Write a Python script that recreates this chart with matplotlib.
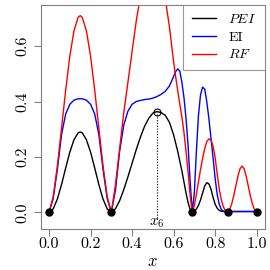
import matplotlib
matplotlib.use("Agg")
import matplotlib.pyplot as plt
import numpy as np

plt.rcParams['font.family'] = ['cmr10', 'DejaVu Serif']
plt.rcParams['mathtext.fontset'] = 'cm'
plt.rcParams['axes.formatter.use_mathtext'] = True

# x grid
x_vals = [0.00, 0.02, 0.04, 0.06, 0.08, 0.10, 0.12, 0.14, 0.15, 0.16, 0.18, 0.20,
          0.22, 0.24, 0.26, 0.28, 0.30, 0.32, 0.34, 0.36, 0.38, 0.40, 0.42, 0.44,
          0.46, 0.48, 0.50, 0.52, 0.54, 0.56, 0.58,
          0.60, 0.61, 0.62, 0.63, 0.64, 0.65, 0.66, 0.67, 0.68, 0.69, 0.70,
          0.71, 0.72, 0.73, 0.74, 0.75, 0.76, 0.77, 0.78, 0.79, 0.80,
          0.81, 0.82, 0.83, 0.84, 0.85, 0.86, 0.87, 0.88, 0.89, 0.90,
          0.91, 0.92, 0.93, 0.94, 0.95, 0.96, 0.97, 0.98, 0.99, 1.00]

pei_vals = [0.0, 0.0125, 0.048, 0.100, 0.160, 0.2175, 0.262, 0.287, 0.29, 0.287, 0.262, 0.2175,
            0.160, 0.100, 0.048, 0.0125, 0.0, 0.013, 0.042, 0.082, 0.128, 0.177, 0.226, 0.271,
            0.310, 0.339, 0.358, 0.364, 0.36, 0.35, 0.325,
            0.28, 0.25, 0.22, 0.185, 0.15, 0.11, 0.07, 0.035, 0.01, 0.0, 0.004,
            0.012, 0.025, 0.045, 0.07, 0.095, 0.107, 0.103, 0.085, 0.055, 0.03,
            0.015, 0.007, 0.004, 0.003, 0.003, 0.003, 0.003, 0.003, 0.003, 0.003,
            0.003, 0.003, 0.003, 0.003, 0.003, 0.003, 0.003, 0.003, 0.003, 0.003]

ei_vals = [0.0, 0.05, 0.155, 0.28, 0.355, 0.39, 0.405, 0.41, 0.41, 0.41, 0.405, 0.39,
           0.355, 0.28, 0.155, 0.05, 0.0, 0.08, 0.22, 0.315, 0.365, 0.39, 0.40, 0.404,
           0.407, 0.409, 0.412, 0.418, 0.426, 0.437, 0.456,
           0.49, 0.508, 0.518, 0.51, 0.47, 0.415, 0.34, 0.24, 0.11, 0.0, 0.07,
           0.22, 0.35, 0.425, 0.452, 0.445, 0.40, 0.34, 0.27, 0.20, 0.125,
           0.065, 0.03, 0.01, 0.004, 0.003, 0.003, 0.003, 0.003, 0.003, 0.003,
           0.003, 0.003, 0.003, 0.003, 0.003, 0.003, 0.003, 0.003, 0.003, 0.003]

rf_vals = [0.0, 0.0575, 0.168, 0.303, 0.441, 0.564, 0.655, 0.704, 0.71, 0.704, 0.655, 0.564,
           0.441, 0.303, 0.168, 0.0575, 0.0, 0.10, 0.23, 0.36, 0.47, 0.58, 0.69, 0.78,
           0.84, 0.88, 0.89, 0.88, 0.84, 0.77, 0.67,
           0.545, 0.49, 0.44, 0.39, 0.345, 0.29, 0.22, 0.145, 0.06, 0.0, 0.025,
           0.065, 0.11, 0.155, 0.195, 0.23, 0.255, 0.265, 0.262, 0.24, 0.20,
           0.14, 0.085, 0.045, 0.02, 0.006, 0.0, 0.01, 0.03, 0.06, 0.095,
           0.13, 0.157, 0.167, 0.157, 0.13, 0.095, 0.06, 0.03, 0.01, 0.0]

obs_x = [0.0, 0.3, 0.69, 0.86, 1.0]
obs_y = [0.0, 0.0, 0.0, 0.0, 0.0]
x6 = 0.52
y6 = 0.364

xticks = [0.0, 0.2, 0.4, 0.6, 0.8, 1.0]
xtick_labels = ["0.0", "0.2", "0.4", "0.6", "0.8", "1.0"]
yticks = [0.0, 0.2, 0.4, 0.6]
ytick_labels = ["0.0", "0.2", "0.4", "0.6"]

fig = plt.figure(figsize=(2.7, 2.7), dpi=100)
ax = fig.add_axes([0.151, 0.152, 0.830, 0.831])

lw = 1.0
ax.plot(x_vals, pei_vals, color='black', lw=lw, label=r'$PEI$')
ax.plot(x_vals, ei_vals, color='#0000FF', lw=lw, label='EI')
ax.plot(x_vals, rf_vals, color='#FF0000', lw=lw, label=r'$RF$')

ax.plot([x6, x6], [-0.02, y6], color='black', lw=0.8, linestyle=(0, (1, 1.5)))
ax.plot(obs_x, obs_y, 'o', color='black', markersize=5, zorder=5)
ax.plot([x6], [y6], 'o', mfc='none', mec='black', mew=0.8, markersize=5, zorder=5)
ax.text(x6, -0.038, r'$x_6$', ha='center', va='center', fontsize=11)

ax.set_xlim(-0.04, 1.04)
ax.set_ylim(-0.06, 0.75)

ax.set_xticks(xticks)
ax.set_xticklabels(xtick_labels)
ax.set_yticks(yticks)
ax.set_yticklabels(ytick_labels, rotation=90, va='center')

gray = '#808080'
for s in ax.spines.values():
    s.set_color(gray)
    s.set_linewidth(0.8)
ax.tick_params(axis='both', direction='out', length=5, width=0.8, color=gray,
               labelsize=11.5, labelcolor='black')
ax.tick_params(axis='x', pad=1)
ax.tick_params(axis='y', pad=3)

ax.set_xlabel(r'$x$', fontsize=12, labelpad=2)

leg = ax.legend(loc='upper right', fontsize=10, frameon=True, fancybox=False,
                borderaxespad=0, handlelength=1.75, handletextpad=0.9,
                borderpad=0.6, labelspacing=0.35)
leg.get_frame().set_edgecolor(gray)
leg.get_frame().set_linewidth(0.8)

fig.savefig('out.png', dpi=100)
